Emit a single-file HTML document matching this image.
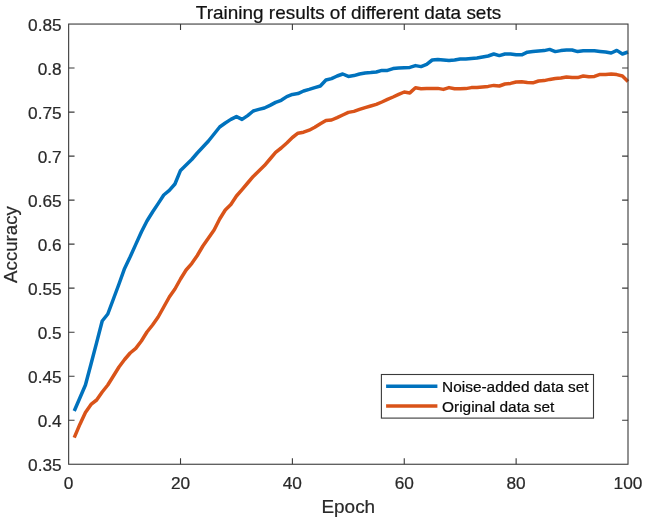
<!DOCTYPE html>
<html lang="en">
<head>
<meta charset="utf-8">
<title>Training results of different data sets</title>
<style>
html,body{margin:0;padding:0;background:#fff;}
body{width:645px;height:522px;overflow:hidden;}
svg{display:block;will-change:transform;}
text{font-family:"Liberation Sans",Arial,Helvetica,sans-serif;fill:#292929;stroke:#292929;stroke-width:0.22px;}
.tt{fill:#121212;stroke:#121212;}
.tk{font-size:17.25px;}
.lb{font-size:18.95px;}
.lg{font-size:15.43px;fill:#0a0a0a;stroke:#0a0a0a;}
</style>
</head>
<body>
<svg width="645" height="522" viewBox="0 0 645 522">
<rect x="0" y="0" width="645" height="522" fill="#ffffff"/>
<g fill="none" stroke-width="3.5" stroke-linejoin="round" stroke-linecap="butt">
<polyline stroke="#0072bd" points="74.24,411.00 79.84,398.00 85.43,385.00 91.02,364.00 96.62,342.60 102.21,321.00 107.80,314.00 113.40,299.00 118.99,284.00 124.59,268.40 130.18,256.80 135.77,244.40 141.37,232.00 146.96,221.00 152.55,212.00 158.15,203.60 163.74,195.00 169.33,190.40 174.93,184.00 180.52,170.40 186.11,165.00 191.71,159.50 197.30,153.00 202.89,147.00 208.49,141.00 214.08,134.00 219.67,127.00 225.27,123.00 230.86,119.40 236.46,116.60 242.05,119.40 247.64,115.60 253.24,111.00 258.83,109.40 264.42,108.00 270.02,105.40 275.61,102.40 281.20,100.30 286.80,96.60 292.39,94.40 297.98,93.60 303.58,91.00 309.17,89.40 314.76,87.60 320.36,86.00 325.95,80.00 331.54,78.60 337.14,76.00 342.73,74.00 348.33,76.40 353.92,75.60 359.51,74.00 365.11,73.00 370.70,72.60 376.29,72.00 381.89,70.40 387.48,70.40 393.07,68.60 398.67,68.00 404.26,67.70 409.85,67.40 415.45,65.60 421.04,66.60 426.63,64.40 432.23,60.00 437.82,59.40 443.41,60.00 449.01,60.60 454.60,60.00 460.20,59.00 465.79,59.00 471.38,58.40 476.98,58.00 482.57,57.00 488.16,56.00 493.76,54.00 499.35,55.60 504.94,54.00 510.54,54.00 516.13,54.80 521.72,54.80 527.32,52.20 532.91,51.60 538.50,51.00 544.10,50.60 549.69,49.40 555.28,51.60 560.88,50.60 566.47,50.00 572.07,50.00 577.66,51.60 583.25,50.80 588.85,50.80 594.44,50.80 600.03,51.40 605.63,52.00 611.22,53.00 616.81,50.40 622.41,54.00 628.00,52.00"/>
<polyline stroke="#d95319" points="74.24,437.60 79.84,424.40 85.43,412.40 91.02,404.40 96.62,400.00 102.21,392.00 107.80,385.00 113.40,376.00 118.99,367.00 124.59,359.50 130.18,353.00 135.77,348.40 141.37,341.00 146.96,332.00 152.55,325.00 158.15,317.00 163.74,307.00 169.33,297.00 174.93,289.00 180.52,279.00 186.11,270.00 191.71,263.60 197.30,255.50 202.89,246.00 208.49,238.00 214.08,230.00 219.67,219.00 225.27,210.00 230.86,204.50 236.46,196.00 242.05,189.60 247.64,183.00 253.24,176.40 258.83,171.00 264.42,165.60 270.02,159.00 275.61,152.40 281.20,148.00 286.80,143.00 292.39,137.50 297.98,133.20 303.58,132.20 309.17,130.20 314.76,127.30 320.36,123.80 325.95,120.60 331.54,120.00 337.14,117.60 342.73,115.00 348.33,112.40 353.92,111.40 359.51,109.40 365.11,107.60 370.70,106.00 376.29,104.40 381.89,102.00 387.48,99.40 393.07,97.00 398.67,94.40 404.26,92.00 409.85,92.90 415.45,87.80 421.04,88.70 426.63,88.60 432.23,88.60 437.82,88.40 443.41,89.40 449.01,87.60 454.60,88.80 460.20,88.80 465.79,88.60 471.38,87.60 476.98,87.60 482.57,87.00 488.16,86.40 493.76,85.40 499.35,86.00 504.94,84.00 510.54,83.40 516.13,82.00 521.72,81.80 527.32,82.60 532.91,82.80 538.50,81.00 544.10,80.60 549.69,79.40 555.28,78.60 560.88,78.00 566.47,77.00 572.07,77.60 577.66,77.60 583.25,76.00 588.85,76.80 594.44,76.40 600.03,74.40 605.63,74.60 611.22,74.00 616.81,74.60 622.41,76.00 628.00,81.60"/>
</g>
<g fill="none" stroke="#3a3a3a" stroke-width="1.1">
<rect x="68.65" y="24.05" width="559.35" height="440.20"/>
<path d="M180.52,464.25v-5.90M180.52,24.05v5.90M292.39,464.25v-5.90M292.39,24.05v5.90M404.26,464.25v-5.90M404.26,24.05v5.90M516.13,464.25v-5.90M516.13,24.05v5.90M68.65,420.23h5.90M628.00,420.23h-5.90M68.65,376.21h5.90M628.00,376.21h-5.90M68.65,332.19h5.90M628.00,332.19h-5.90M68.65,288.17h5.90M628.00,288.17h-5.90M68.65,244.15h5.90M628.00,244.15h-5.90M68.65,200.13h5.90M628.00,200.13h-5.90M68.65,156.11h5.90M628.00,156.11h-5.90M68.65,112.09h5.90M628.00,112.09h-5.90M68.65,68.07h5.90M628.00,68.07h-5.90"/>
</g>
<g class="tk" text-anchor="middle">
<text x="68.65" y="488.55">0</text>
<text x="180.52" y="488.55">20</text>
<text x="292.39" y="488.55">40</text>
<text x="404.26" y="488.55">60</text>
<text x="516.13" y="488.55">80</text>
<text x="628.00" y="488.55">100</text>
</g>
<g class="tk" text-anchor="end">
<text x="61.7" y="471.40">0.35</text>
<text x="61.7" y="427.38">0.4</text>
<text x="61.7" y="383.36">0.45</text>
<text x="61.7" y="339.34">0.5</text>
<text x="61.7" y="295.32">0.55</text>
<text x="61.7" y="251.30">0.6</text>
<text x="61.7" y="207.28">0.65</text>
<text x="61.7" y="163.26">0.7</text>
<text x="61.7" y="119.24">0.75</text>
<text x="61.7" y="75.22">0.8</text>
<text x="61.7" y="31.20">0.85</text>
</g>
<text class="lb tt" text-anchor="middle" x="348.5" y="19.4">Training results of different data sets</text>
<text class="lb" text-anchor="middle" x="348.3" y="513.4">Epoch</text>
<text class="lb" style="font-size:18.7px" text-anchor="middle" transform="translate(17.4,244.5) rotate(-90)">Accuracy</text>
<rect x="381.4" y="374.5" width="212.1" height="43.6" fill="#ffffff" stroke="#3a3a3a" stroke-width="1.1"/>
<line x1="386.1" y1="386.35" x2="437.4" y2="386.35" stroke="#0072bd" stroke-width="3.5"/>
<line x1="386.1" y1="405.9" x2="437.4" y2="405.9" stroke="#d95319" stroke-width="3.5"/>
<text class="lg" x="442.05" y="392.0">Noise-added data set</text>
<text class="lg" x="442.05" y="411.8">Original data set</text>
</svg>
</body>
</html>
